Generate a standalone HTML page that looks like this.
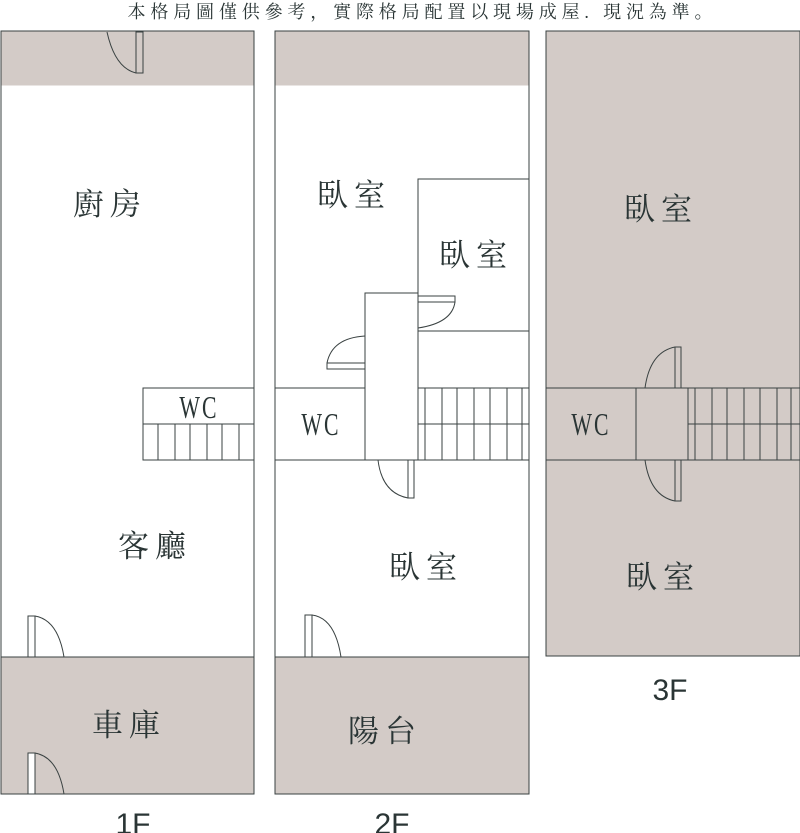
<!DOCTYPE html>
<html><head><meta charset="utf-8"><style>
html,body{margin:0;padding:0;background:#fff;}
svg{display:block;}
text{font-family:"Liberation Serif","Noto Serif CJK SC","Noto Sans CJK TC",serif;fill:#2a3535;}
.f{font-family:"Liberation Sans",sans-serif;}
</style></head><body>
<svg width="800" height="833" viewBox="0 0 800 833" xmlns="http://www.w3.org/2000/svg">
<g stroke="#3a4242" stroke-width="1" fill="none">
<!-- 1F -->
<rect x="1" y="31" width="253" height="763" fill="#fff"/>
<rect x="1.5" y="31.5" width="252" height="54" fill="#d3cbc7" stroke="none"/>
<rect x="1" y="657" width="253" height="137" fill="#d3cbc7"/>
<rect x="136" y="32" width="7" height="41" fill="#d3cbc7"/>
<path d="M107 32 Q115 68 136 73"/>
<rect x="143" y="388" width="111" height="72" fill="#fff"/>
<line x1="143" y1="424" x2="254" y2="424"/>
<path d="M158 424V460M175 424V460M190 424V460M207 424V460M222 424V460M239 424V460"/>
<rect x="28" y="616" width="7" height="41" fill="#fff"/>
<path d="M35 616 Q58 620 64 657"/>
<rect x="28" y="753" width="7" height="41" fill="#fff"/>
<path d="M35 753 Q58 757 64 794"/>
<!-- 2F -->
<rect x="275" y="31" width="254" height="763" fill="#fff"/>
<rect x="275.5" y="31.5" width="253" height="54" fill="#d3cbc7" stroke="none"/>
<rect x="275" y="657" width="254" height="137" fill="#d3cbc7"/>
<rect x="418" y="179" width="111" height="152" fill="#fff"/>
<rect x="418" y="296" width="37" height="6" fill="#fff"/>
<path d="M455 302 Q452 323 418 328"/>
<rect x="365" y="293" width="53" height="167" fill="#fff"/>
<rect x="327" y="363" width="38" height="6" fill="#fff"/>
<path d="M327 363 Q332 338 365 336"/>
<rect x="275" y="388" width="90" height="72" fill="#fff"/>
<rect x="418" y="388" width="111" height="72" fill="#fff"/>
<line x1="418" y1="424" x2="529" y2="424"/>
<path d="M425 388V460M442 388V460M457 388V460M474 388V460M490 388V460M507 388V460M522 388V460"/>
<rect x="408" y="460" width="6" height="38" fill="#fff"/>
<path d="M378 460 Q382 493 408 498"/>
<rect x="305" y="615" width="7" height="42" fill="#fff"/>
<path d="M312 615 Q335 618 341 657"/>
<!-- 3F -->
<rect x="546" y="31" width="254" height="625" fill="#d3cbc7"/>
<line x1="546" y1="388" x2="800" y2="388"/>
<line x1="546" y1="460" x2="800" y2="460"/>
<line x1="636" y1="388" x2="636" y2="460"/>
<line x1="688" y1="424" x2="800" y2="424"/>
<path d="M688 388V460M695 388V460M712 388V460M727 388V460M744 388V460M760 388V460M777 388V460M791 388V460"/>
<rect x="675" y="347" width="6" height="41" fill="#d3cbc7"/>
<path d="M675 347 Q650 352 645 388"/>
<rect x="675" y="460" width="6" height="41" fill="#d3cbc7"/>
<path d="M675 501 Q650 496 645 460"/>
</g>
<text x="420" y="18" font-size="18" text-anchor="middle" textLength="585" lengthAdjust="spacing">本格局圖僅供參考，實際格局配置以現場成屋. 現況為準。</text>
<g font-size="31">
<text x="110" y="215" text-anchor="middle" letter-spacing="6">廚房</text>
<text x="155" y="557" text-anchor="middle" letter-spacing="6">客廳</text>
<text x="129" y="736" text-anchor="middle" letter-spacing="6">車庫</text>
<text x="354" y="206" text-anchor="middle" letter-spacing="6">臥室</text>
<text x="476" y="266" text-anchor="middle" letter-spacing="6">臥室</text>
<text x="426" y="578" text-anchor="middle" letter-spacing="6">臥室</text>
<text x="385" y="742" text-anchor="middle" letter-spacing="6">陽台</text>
<text x="661" y="220" text-anchor="middle" letter-spacing="6">臥室</text>
<text x="663" y="588" text-anchor="middle" letter-spacing="6">臥室</text>
</g>
<g font-size="32">
<text x="199" y="418" text-anchor="middle" letter-spacing="3" transform="translate(199 0) scale(0.68 1) translate(-199 0)">WC</text>
<text x="321" y="435" text-anchor="middle" letter-spacing="3" transform="translate(321 0) scale(0.68 1) translate(-321 0)">WC</text>
<text x="591" y="435" text-anchor="middle" letter-spacing="3" transform="translate(591 0) scale(0.68 1) translate(-591 0)">WC</text>
</g>
<g font-size="30">
<text class="f" x="133" y="834" text-anchor="middle">1F</text>
<text class="f" x="392" y="834" text-anchor="middle">2F</text>
<text class="f" x="670" y="700" text-anchor="middle">3F</text>
</g>
</svg>
</body></html>
